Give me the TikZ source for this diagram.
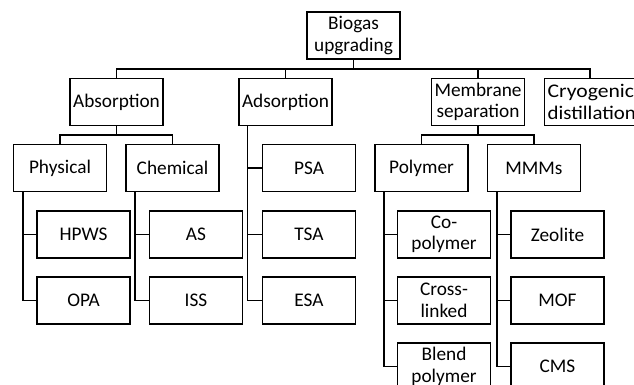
\documentclass[tikz,border=0pt]{standalone}
\usepackage{fontspec}
\usepackage{graphicx}
\setmainfont{Carlito}
\begin{document}
\begin{tikzpicture}[x=1pt,y=-1pt,
  box/.style={draw,line width=1.4pt,minimum width=93pt,minimum height=47pt,inner sep=0pt,align=center,
    font=\fontsize{19.3}{21.5}\selectfont},
  conn/.style={line width=1.4pt}]
\useasboundingbox (0,0) rectangle (634,385);
% level 0
\node[box] (root) at (353.5,35.5) {Biogas\\upgrading};
% level 1
\node[box] (abs) at (116.5,102) {Absorption};
\node[box] (ads) at (285.5,102) {Adsorption};
\node[box] (mem) at (478,102) {Membrane\\separation};
\node[box,anchor=west,text width=96pt,inner xsep=3pt,align=left] (cryo) at (544,102)
  {\scalebox{1.12}[1]{Cryogenic}\\\scalebox{1.08}[1]{distillation}};
% level 2
\node[box] (phys) at (60,168) {Physical};
\node[box] (chem) at (172.5,168) {Chemical};
\node[box] (psa) at (309,168) {PSA};
\node[box] (poly) at (421.5,168) {Polymer};
\node[box] (mmm) at (534,168) {MMMs};
% level 3
\node[box] (hpws) at (83.5,234.5) {HPWS};
\node[box] (opa) at (83.5,300.5) {OPA};
\node[box] (as) at (196,234.5) {AS};
\node[box] (iss) at (196,300.5) {ISS};
\node[box] (tsa) at (309,234.5) {TSA};
\node[box] (esa) at (309,300.5) {ESA};
\node[box] (copoly) at (444,234.5) {Co-\\polymer};
\node[box] (cross) at (444,300.5) {Cross-\\linked};
\node[box] (blend) at (444,366.5) {Blend\\polymer};
\node[box] (zeo) at (557.5,234.5) {Zeolite};
\node[box] (mof) at (557.5,300.5) {MOF};
\node[box] (cms) at (557.5,366.5) {CMS};
% buses
\coordinate (busA) at (0,69);
\coordinate (busB) at (0,135);
\coordinate (cryoTop) at ([xshift=46pt]cryo.north west);
\draw[conn] (root.south) -- (root.south |- busA);
\draw[conn] (abs.north) -- (abs.north |- busA) -- (cryoTop |- busA) -- (cryoTop);
\draw[conn] (ads.north) -- (ads.north |- busA);
\draw[conn] (mem.north) -- (mem.north |- busA);
\draw[conn] (abs.south) -- (abs.south |- busB);
\draw[conn] (phys.north) -- (phys.north |- busB) -- (chem.north |- busB) -- (chem.north);
\draw[conn] (mem.south) -- (mem.south |- busB);
\draw[conn] (poly.north) -- (poly.north |- busB) -- (mmm.north |- busB) -- (mmm.north);
% side trunks
\coordinate (vPhys) at ([xshift=10pt]phys.south west);
\coordinate (vChem) at ([xshift=9.5pt]chem.south west);
\coordinate (vAds) at ([xshift=9pt]ads.south west);
\coordinate (vPoly) at ([xshift=9.5pt]poly.south west);
\coordinate (vMmm) at ([xshift=10pt]mmm.south west);
\draw[conn] (vPhys) |- (opa.west);
\draw[conn] (hpws.west) -- (hpws.west -| vPhys);
\draw[conn] (vChem) |- (iss.west);
\draw[conn] (as.west) -- (as.west -| vChem);
\draw[conn] (vAds) |- (esa.west);
\draw[conn] (psa.west) -- (psa.west -| vAds);
\draw[conn] (tsa.west) -- (tsa.west -| vAds);
\draw[conn] (vPoly) |- (blend.west);
\draw[conn] (copoly.west) -- (copoly.west -| vPoly);
\draw[conn] (cross.west) -- (cross.west -| vPoly);
\draw[conn] (vMmm) |- (cms.west);
\draw[conn] (zeo.west) -- (zeo.west -| vMmm);
\draw[conn] (mof.west) -- (mof.west -| vMmm);
\end{tikzpicture}
\end{document}
